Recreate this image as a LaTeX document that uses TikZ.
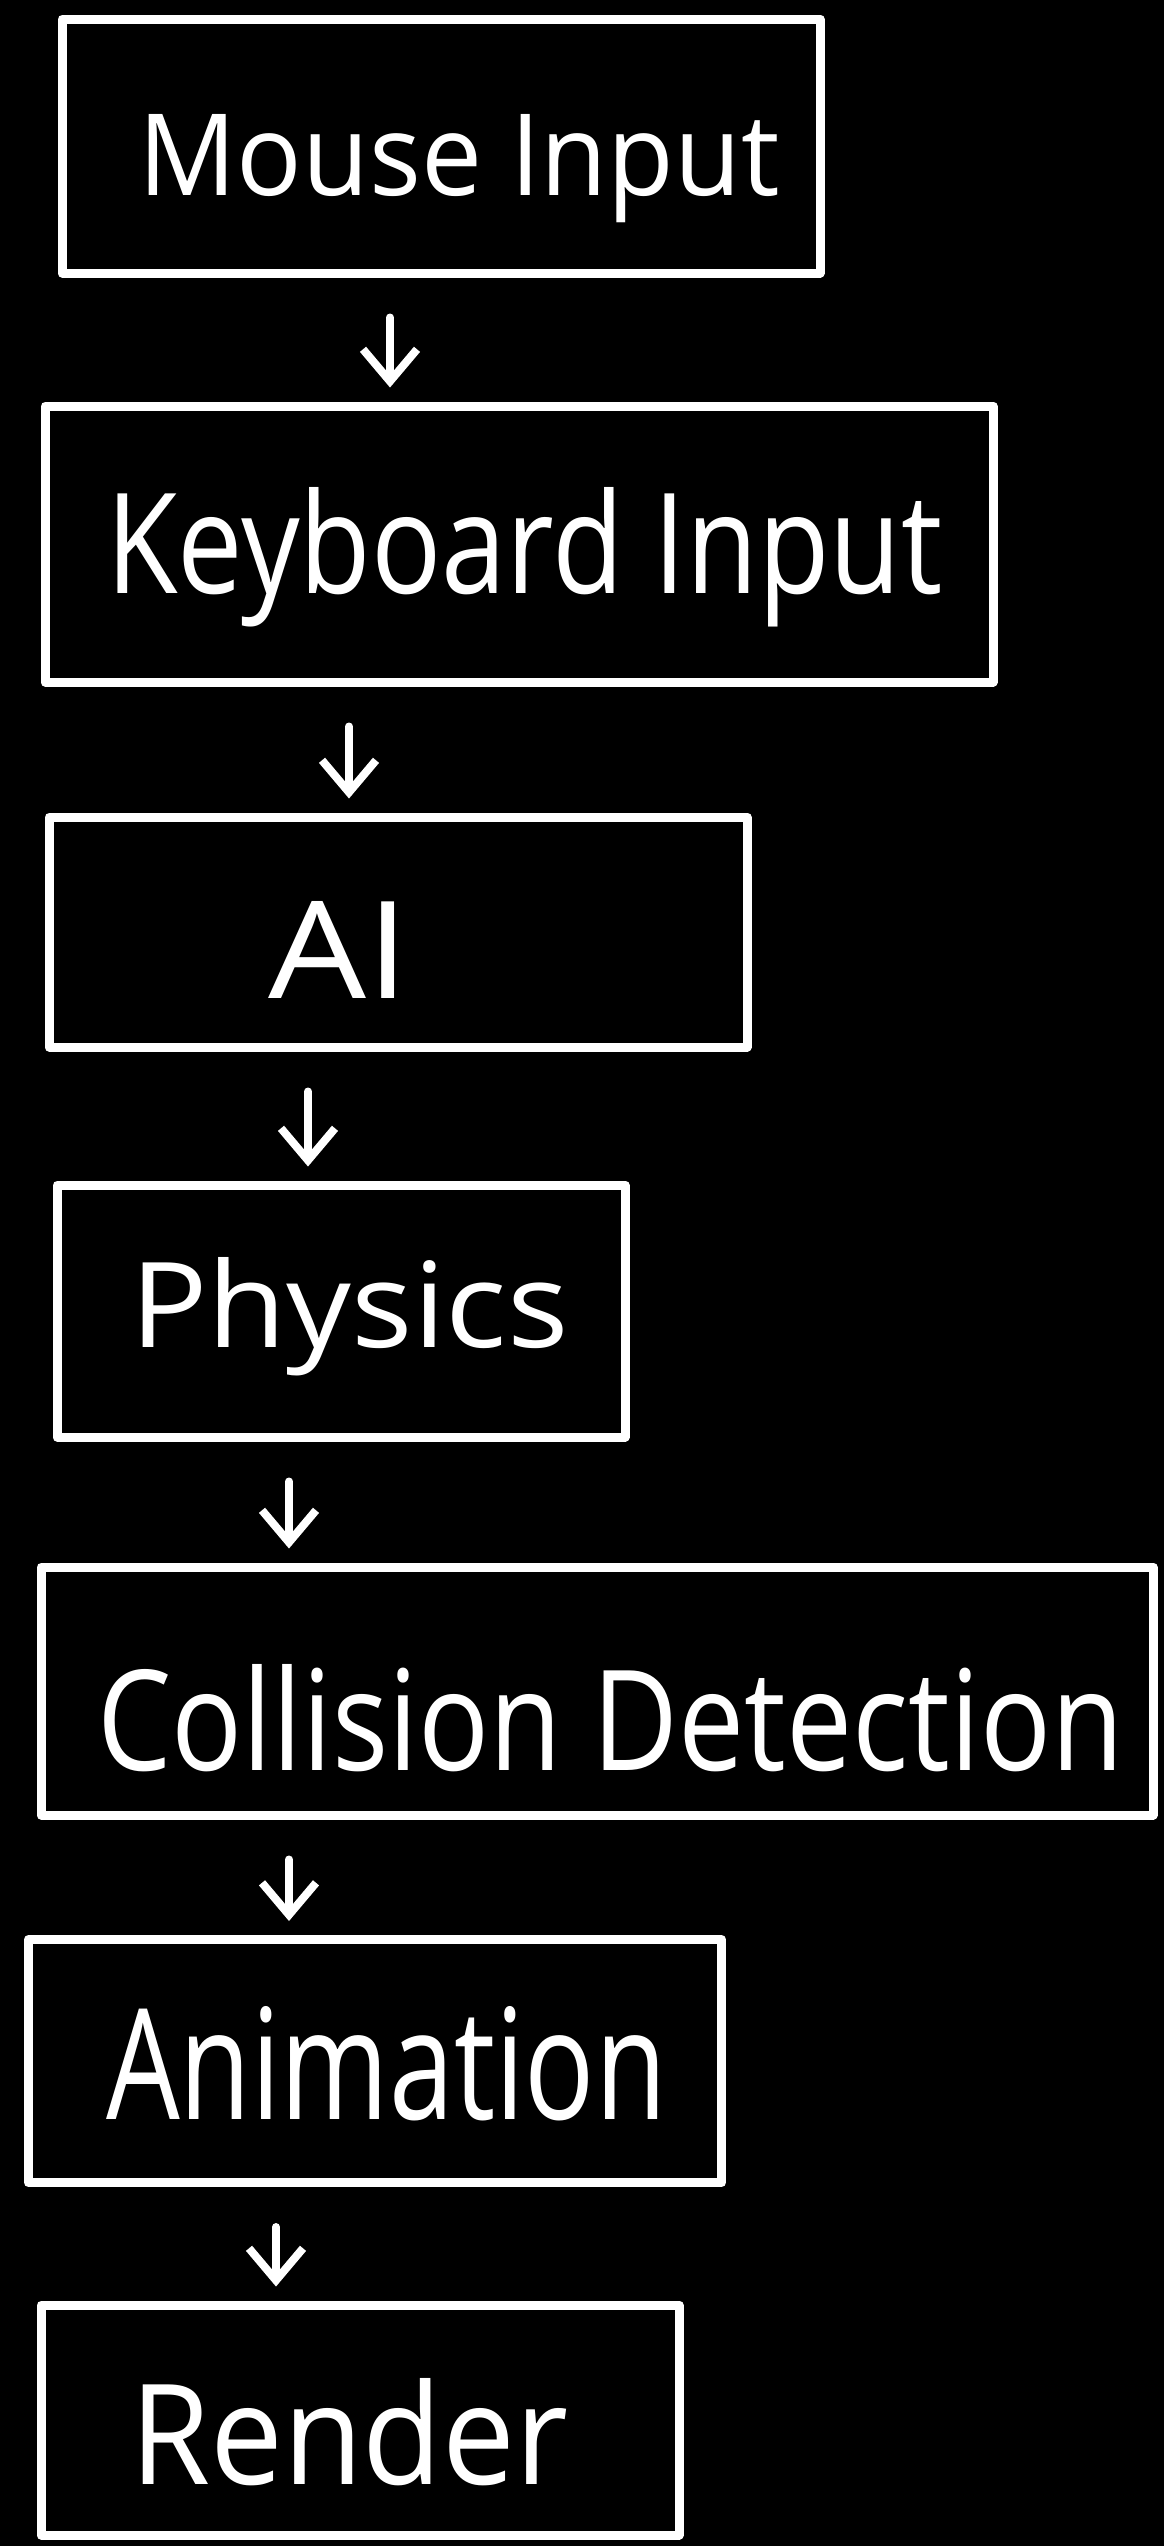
\documentclass[tikz,border=0pt]{standalone}
\usepackage{fontspec}
\setmainfont{Open Sans}
\usepackage{graphicx}
\usetikzlibrary{arrows.meta}
\tikzset{
  box/.style={draw=white, line width=9pt, rectangle, inner sep=0pt, line cap=round, line join=round},
  lbl/.style={text=white, inner sep=0pt, anchor=base west},
  arr/.style={draw=white, line width=8pt, line cap=round, -{Straight Barb[length=32pt,width=54pt,line width=8pt]}, shorten <=40pt, shorten >=14pt}
}
\newcommand{\fit}[3]{\resizebox{#1pt}{#2pt}{#3}}
\begin{document}
\begin{tikzpicture}[x=1pt,y=-1pt]
\fill[black] (0,0) rectangle (1164,2546);
\useasboundingbox (0,0) rectangle (1164,2546);
% boxes
\node[box, minimum width=758pt, minimum height=254pt] (m) at (441,146) {};
\node[box, minimum width=948pt, minimum height=276pt] (k) at (519,544) {};
\node[box, minimum width=698pt, minimum height=230pt] (ai) at (398,932) {};
\node[box, minimum width=568pt, minimum height=252pt] (ph) at (341,1311) {};
\node[box, minimum width=1112pt, minimum height=248pt] (cd) at (597,1691) {};
\node[box, minimum width=693pt, minimum height=243pt] (an) at (375,2061) {};
\node[box, minimum width=638pt, minimum height=230pt] (re) at (360,2420) {};
% labels
\node[lbl] (tm) at (138,195) {\fit{641}{81}{Mouse Input}};
\node[lbl] (tk) at (106,593) {\fit{836}{106}{Keyboard Input}};
\node[lbl] (tai) at (268,998) {\fit{141}{97}{AI}};
\node[lbl] (tph) at (130,1347) {\fit{438}{90}{Physics}};
\node[lbl] (tcd) at (97,1770) {\fit{1026}{106}{Collision Detection}};
\node[lbl] (tan) at (106,2119) {\fit{560}{113}{Animation}};
\node[lbl] (tre) at (130,2484) {\fit{438}{106}{Render}};
% arrow columns
\coordinate (x1) at (390,0);
\coordinate (x2) at (349,0);
\coordinate (x3) at (308,0);
\coordinate (x4) at (289,0);
\coordinate (x5) at (289,0);
\coordinate (x6) at (276,0);
\draw[arr] (m.south -| x1) -- (k.north -| x1);
\draw[arr] (k.south -| x2) -- (ai.north -| x2);
\draw[arr] (ai.south -| x3) -- (ph.north -| x3);
\draw[arr] (ph.south -| x4) -- (cd.north -| x4);
\draw[arr] (cd.south -| x5) -- (an.north -| x5);
\draw[arr] (an.south -| x6) -- (re.north -| x6);
\end{tikzpicture}
\end{document}
